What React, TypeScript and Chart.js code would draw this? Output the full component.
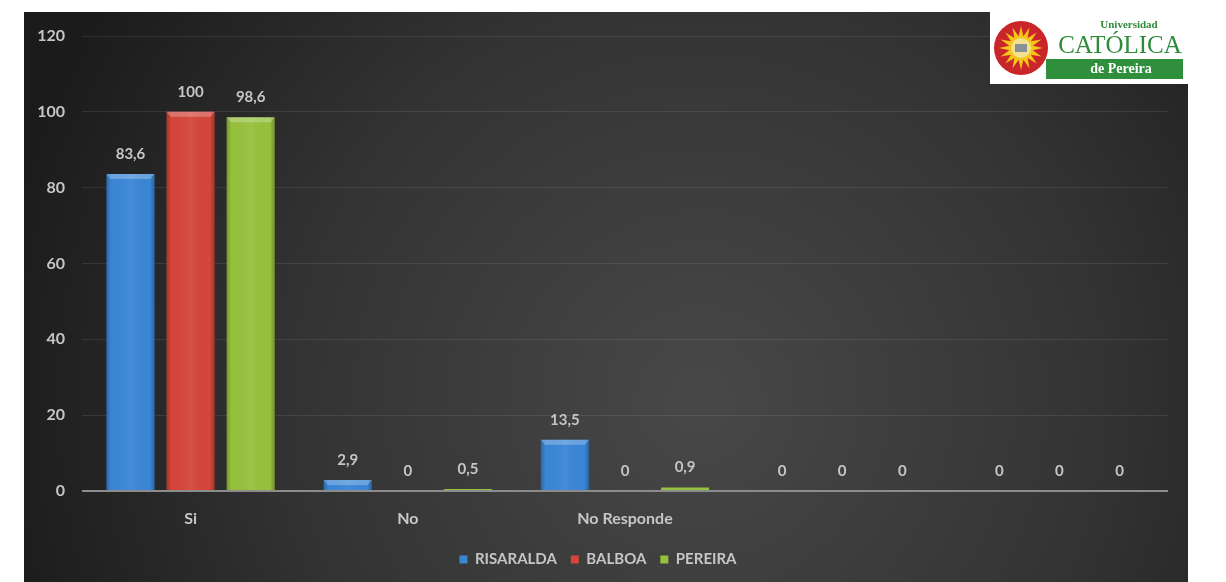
import React, { useEffect, useRef } from "react";
import { Chart, registerables } from "chart.js";
Chart.register(...registerables);

const categories = ["Si", "No", "No Responde", "", ""];
const seriesNames = ["RISARALDA", "BALBOA", "PEREIRA"];
const risaralda = [83.6, 2.9, 13.5, 0, 0];
const balboa = [100, 0, 0, 0, 0];
const pereira = [98.6, 0.5, 0.9, 0, 0];
const seriesColors = ["#3a86d6", "#d5453a", "#96c13c"];
const yMax = 120;
const yStep = 20;

const FONT = "Lato, 'Open Sans', sans-serif";

const bgPlugin = {
  id: "bg",
  beforeDraw(chart: any) {
    const ctx = chart.ctx;
    const w = chart.width;
    const h = chart.height;
    ctx.save();
    ctx.fillStyle = "#ffffff";
    ctx.fillRect(0, 0, w, h);
    const g = ctx.createRadialGradient(700, 400, 20, 700, 400, 720);
    g.addColorStop(0, "#474747");
    g.addColorStop(0.55, "#333333");
    g.addColorStop(1, "#1b1b1b");
    ctx.fillStyle = g;
    ctx.fillRect(24, 12, 1164, h - 12);
    ctx.restore();
  },
};

const barShadePlugin = {
  id: "barShade",
  afterDatasetsDraw(chart: any) {
    const ctx = chart.ctx;
    ctx.save();
    chart.data.datasets.forEach((ds: any, di: number) => {
      const meta = chart.getDatasetMeta(di);
      meta.data.forEach((el: any) => {
        const { x, y, base, width } = el.getProps(["x", "y", "base", "width"], true);
        const hgt = base - y;
        if (hgt < 6) return;
        const l = x - width / 2;
        const g = ctx.createLinearGradient(l, 0, l + width, 0);
        g.addColorStop(0, "rgba(0,0,0,0.22)");
        g.addColorStop(0.1, "rgba(0,0,0,0.0)");
        g.addColorStop(0.5, "rgba(255,255,255,0.06)");
        g.addColorStop(0.9, "rgba(0,0,0,0.0)");
        g.addColorStop(1, "rgba(0,0,0,0.25)");
        ctx.fillStyle = g;
        ctx.fillRect(l, y, width, hgt);
        const th = Math.min(5, hgt);
        ctx.fillStyle = "rgba(255,255,255,0.25)";
        ctx.beginPath();
        ctx.moveTo(l, y);
        ctx.lineTo(l + width, y);
        ctx.lineTo(l + width - 4, y + th);
        ctx.lineTo(l + 4, y + th);
        ctx.closePath();
        ctx.fill();
      });
    });
    ctx.restore();
  },
};

const labelPlugin = {
  id: "valueLabels",
  afterDatasetsDraw(chart: any) {
    const ctx = chart.ctx;
    ctx.save();
    ctx.font = `bold 15px ${FONT}`;
    ctx.fillStyle = "#c6c6c6";
    ctx.textAlign = "center";
    ctx.textBaseline = "middle";
    chart.data.datasets.forEach((ds: any, di: number) => {
      const meta = chart.getDatasetMeta(di);
      meta.data.forEach((el: any, i: number) => {
        const { x, y } = el.getProps(["x", "y"], true);
        const txt = String(ds.data[i]).replace(".", ",");
        ctx.fillText(txt, x, y - 20);
      });
    });
    ctx.restore();
  },
};

const logoPlugin = {
  id: "logo",
  afterDraw(chart: any) {
    const ctx = chart.ctx;
    ctx.save();
    ctx.fillStyle = "#ffffff";
    ctx.fillRect(990, 12, 198, 72);
    const cx = 1021, cy = 48;
    ctx.fillStyle = "#c9252b";
    ctx.beginPath();
    ctx.arc(cx, cy, 27, 0, Math.PI * 2);
    ctx.fill();
    ctx.fillStyle = "#f5c518";
    ctx.beginPath();
    const rays = 16;
    for (let k = 0; k < rays * 2; k++) {
      const r = k % 2 === 0 ? 22 : 12;
      const a = (k / (rays * 2)) * Math.PI * 2;
      const px = cx + Math.cos(a) * r;
      const py = cy + Math.sin(a) * r;
      if (k === 0) ctx.moveTo(px, py);
      else ctx.lineTo(px, py);
    }
    ctx.closePath();
    ctx.fill();
    ctx.fillStyle = "#f0e090";
    ctx.beginPath();
    ctx.arc(cx, cy, 10, 0, Math.PI * 2);
    ctx.fill();
    ctx.fillStyle = "#8a8f96";
    ctx.fillRect(cx - 6, cy - 4, 12, 8);
    ctx.fillStyle = "#2e8b3a";
    ctx.textAlign = "center";
    ctx.textBaseline = "middle";
    ctx.font = "bold 11px 'Liberation Serif', serif";
    ctx.fillText("Universidad", 1129, 25);
    ctx.font = "25px 'Liberation Serif', serif";
    ctx.fillText("CATÓLICA", 1120, 46);
    ctx.fillStyle = "#2f8f3c";
    ctx.fillRect(1046, 59, 137, 20);
    ctx.fillStyle = "#ffffff";
    ctx.font = "bold 14px 'Liberation Serif', serif";
    ctx.fillText("de Pereira", 1121, 69);
    ctx.restore();
  },
};

export default function App() {
  const ref = useRef<HTMLCanvasElement>(null);
  useEffect(() => {
    document.body.style.margin = "0";
    const cvs = ref.current!;
    const chart = new Chart(cvs, {
      type: "bar",
      data: {
        labels: categories,
        datasets: [
          { label: seriesNames[0], data: risaralda, backgroundColor: seriesColors[0] },
          { label: seriesNames[1], data: balboa, backgroundColor: seriesColors[1] },
          { label: seriesNames[2], data: pereira, backgroundColor: seriesColors[2] },
        ],
      },
      options: {
        responsive: false,
        animation: false,
        devicePixelRatio: 1,
        layout: { padding: { left: 28, right: 58, top: 36, bottom: 5 } },
        datasets: {
          bar: { categoryPercentage: 0.83, barPercentage: 0.8 },
        },
        plugins: {
          tooltip: { enabled: false },
          legend: {
            position: "bottom",
            labels: {
              color: "#c6c6c6",
              font: { family: FONT, size: 15, weight: "bold" },
              boxWidth: 8,
              boxHeight: 8,
              padding: 14,
            },
          },
        },
        scales: {
          x: {
            grid: { display: false },
            border: { display: false },
            ticks: { color: "#c6c6c6", font: { family: FONT, size: 16, weight: "bold" }, padding: 10 },
            afterFit(scale: any) {
              scale.height = 47;
            },
          },
          y: {
            min: 0,
            max: yMax,
            ticks: { stepSize: yStep, color: "#c6c6c6", font: { family: FONT, size: 16, weight: "bold" }, padding: 17 },
            grid: {
              drawTicks: false,
              color: (c: any) => (c.tick && c.tick.value === 0 ? "#8c8c8c" : "rgba(255,255,255,0.09)"),
              lineWidth: (c: any) => (c.tick && c.tick.value === 0 ? 2 : 1),
            },
            border: { display: false },
            afterFit(scale: any) {
              scale.width = 54;
            },
          },
        },
      },
      plugins: [bgPlugin, barShadePlugin, labelPlugin, logoPlugin],
    });
    return () => chart.destroy();
  }, []);
  return (
    <div style={{ position: "absolute", left: 0, top: 0, width: 1226, height: 582 }}>
      <canvas ref={ref} width={1226} height={582} style={{ display: "block" }} />
    </div>
  );
}
